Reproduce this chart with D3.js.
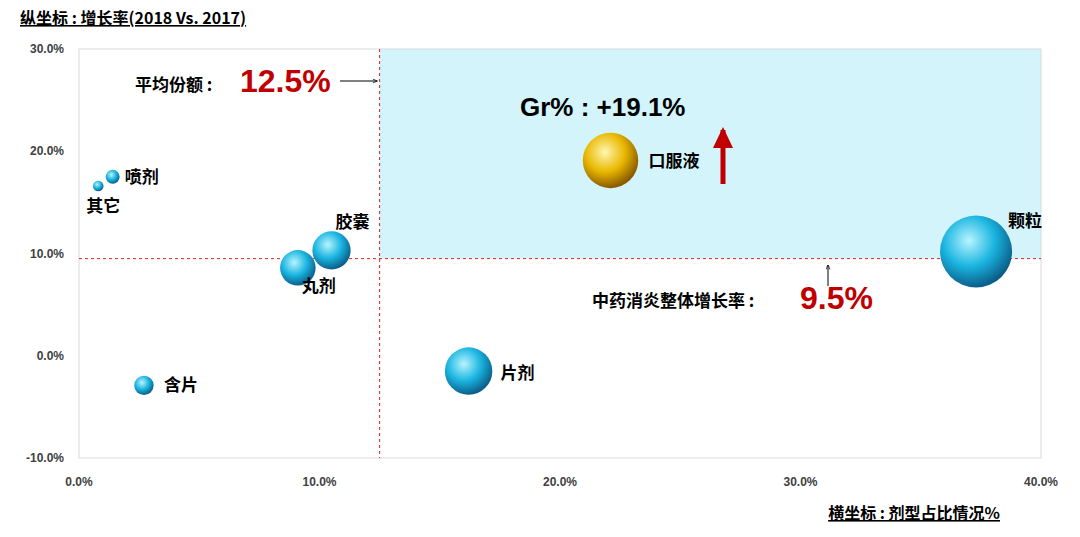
<!DOCTYPE html>
<html><head><meta charset="utf-8">
<script src="https://cdn.jsdelivr.net/npm/d3@7"></script>
<style>body{margin:0;background:#fff;font-family:"Noto Sans CJK SC",sans-serif}</style>
</head><body><svg id="c" width="1080" height="537"></svg>
<script>
const categories=["其它","喷剂","胶囊","丸剂","含片","片剂","口服液","颗粒"];
const shareValues=[0.8,1.4,10.5,9.1,2.7,16.2,22.1,37.3];
const growthValues=[16.6,17.5,10.3,8.6,-2.9,-1.5,19.1,10.2];
const xTicks=[0,10,20,30,40];
const yTicks=[-10,0,10,20,30];
const avgShare=12.5, avgGrowth=9.5;

const svg=d3.select("#c");
const x=d3.scaleLinear().domain([0,40]).range([79,1041]);
const y=d3.scaleLinear().domain([-10,30]).range([458,49]);
const r=d3.scaleSqrt().domain([0,37.3]).range([0,36]);
const defs=svg.append("defs");
function grad(id,c0,c1,c2){const g=defs.append("radialGradient").attr("id",id).attr("cx","40%").attr("cy","35%").attr("r","65%");
g.append("stop").attr("offset","0%").attr("stop-color",c0);g.append("stop").attr("offset","55%").attr("stop-color",c1);g.append("stop").attr("offset","100%").attr("stop-color",c2);}
grad("gb","#b8f4ff","#1ab5e0","#0a5f8a");grad("gy","#fff6b0","#e8b800","#8a5a00");
defs.append("marker").attr("id","ar").attr("viewBox","0 0 10 10").attr("refX",9).attr("refY",5).attr("markerWidth",5).attr("markerHeight",5).attr("orient","auto")
 .append("path").attr("d","M0,1L10,5L0,9").attr("fill","none").attr("stroke","#000").attr("stroke-width",1.5);

svg.append("rect").attr("x",x(avgShare)).attr("y",y(30)).attr("width",x(40)-x(avgShare)).attr("height",y(avgGrowth)-y(30)).attr("fill","#d4f4fb");
svg.append("rect").attr("x",79).attr("y",49).attr("width",962).attr("height",409).attr("fill","none").attr("stroke","#d9d9d9");
svg.append("line").attr("x1",x(avgShare)).attr("x2",x(avgShare)).attr("y1",49).attr("y2",458).attr("stroke","#e02020").attr("stroke-dasharray","3,3");
svg.append("line").attr("x1",79).attr("x2",1041).attr("y1",y(avgGrowth)).attr("y2",y(avgGrowth)).attr("stroke","#e02020").attr("stroke-dasharray","3,3");

const ax=svg.append("g").attr("font-family","Arial,Liberation Sans").attr("font-weight","bold").attr("font-size",12);
xTicks.forEach(t=>ax.append("text").attr("x",x(t)).attr("y",486).attr("text-anchor","middle").attr("fill","#404040").text(t.toFixed(1)+"%"));
yTicks.forEach(t=>ax.append("text").attr("x",64).attr("y",y(t)+4).attr("text-anchor","end").attr("fill","#404040").text(t.toFixed(1)+"%"));

const data=categories.map((c,i)=>({c,x:shareValues[i],y:growthValues[i]}));
svg.selectAll("circle.b").data(data).enter().append("circle").attr("class","b")
 .attr("cx",d=>x(d.x)).attr("cy",d=>y(d.y)).attr("r",d=>r(d.x)).attr("fill",d=>d.c==="口服液"?"url(#gy)":"url(#gb)");

const lab={"其它":[-12,26],"喷剂":[12,6],"胶囊":[4,-22],"丸剂":[4,24],"含片":[20,6],"片剂":[32,8],"口服液":[38,7],"颗粒":[32,-24]};
svg.selectAll("text.l").data(data).enter().append("text").attr("font-weight","bold").attr("font-size",17).attr("fill","#000")
 .attr("x",d=>x(d.x)+lab[d.c][0]).attr("y",d=>y(d.y)+lab[d.c][1]).text(d=>d.c);

svg.append("text").attr("x",20).attr("y",24).attr("font-size",16).attr("font-weight","bold").attr("text-decoration","underline").text("纵坐标 : 增长率(2018 Vs. 2017)");
svg.append("text").attr("x",1000).attr("y",519).attr("text-anchor","end").attr("font-size",16).attr("font-weight","bold").attr("text-decoration","underline").text("横坐标 : 剂型占比情况%");

svg.append("text").attr("x",135).attr("y",91).attr("font-weight","bold").attr("font-size",17).text("平均份额 :");
svg.append("text").attr("x",240).attr("y",92).attr("font-weight","bold").attr("font-size",32).attr("fill","#c00000").attr("font-family","Arial,Liberation Sans").text("12.5%");
svg.append("line").attr("x1",340).attr("x2",377).attr("y1",81).attr("y2",81).attr("stroke","#000").attr("marker-end","url(#ar)");

svg.append("text").attr("x",520).attr("y",116).attr("font-size",26).attr("font-weight","bold").attr("font-family","Arial,Liberation Sans").text("Gr% : +19.1%");
svg.append("line").attr("x1",723).attr("x2",723).attr("y1",184).attr("y2",130).attr("stroke","#c00000").attr("stroke-width",5);
svg.append("path").attr("d","M713,148L723,127L733,148Z").attr("fill","#c00000");

svg.append("text").attr("x",592).attr("y",307).attr("font-weight","bold").attr("font-size",17).text("中药消炎整体增长率 :");
svg.append("text").attr("x",800).attr("y",309).attr("font-weight","bold").attr("font-size",32).attr("fill","#c00000").attr("font-family","Arial,Liberation Sans").text("9.5%");
svg.append("line").attr("x1",828).attr("x2",828).attr("y1",286).attr("y2",265).attr("stroke","#000").attr("marker-end","url(#ar)");
</script></body></html>
